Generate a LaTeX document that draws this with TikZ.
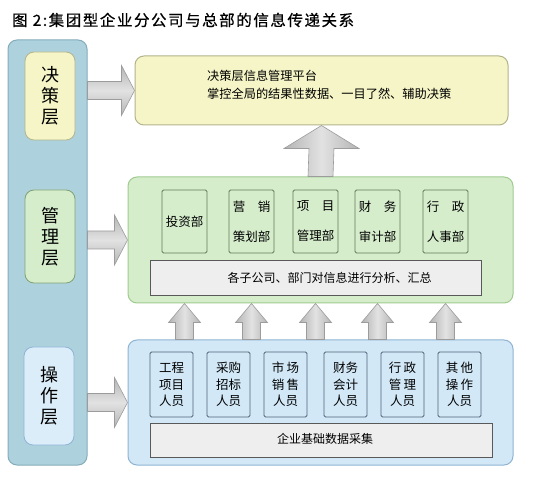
\documentclass[tikz,border=0pt]{standalone}
\usepackage{fontspec}
\setmainfont{Noto Sans CJK SC}
\newfontfamily\titlefont[LetterSpace=10, FakeBold=0.6]{Noto Sans CJK SC}
\usetikzlibrary{positioning,calc}

\definecolor{colfill}{HTML}{ADD2DE}
\definecolor{colline}{HTML}{86ABBB}
\definecolor{yelfill}{HTML}{F5F5C7}
\definecolor{yelline}{HTML}{B3B38C}
\definecolor{grnfill}{HTML}{D6EDCC}
\definecolor{grnline}{HTML}{9FCB90}
\definecolor{bluefill}{HTML}{D2E8F7}
\definecolor{blueline}{HTML}{8FB4D4}
\definecolor{barfill}{HTML}{EEEEEE}
\definecolor{arrowfill}{HTML}{E2E2E2}
\definecolor{arrowedge}{HTML}{B4B4B4}
\definecolor{arrowline}{HTML}{9C9C9C}

\tikzset{
  panel/.style={rounded corners=9pt, line width=1pt, inner sep=0pt},
  layerbox/.style={rounded corners=9pt, line width=0.8pt, inner sep=0pt,
    minimum width=50pt, align=center, font=\fontsize{18}{21}\selectfont},
  deptbox/.style={rounded corners=1.5pt, draw=grnline!60!black, fill=grnfill, line width=0.8pt,
    inner sep=0pt, minimum width=45pt, minimum height=63pt, align=center,
    font=\fontsize{12.5}{30}\selectfont},
  staffbox/.style={rounded corners=1.5pt, draw=blueline!55!black, fill=bluefill, line width=0.8pt,
    inner sep=0pt, minimum width=43pt, minimum height=65pt, align=center,
    font=\fontsize{12.5}{16.5}\selectfont},
  barbox/.style={draw=black!65, fill=barfill, line width=0.8pt, inner sep=0pt},
  barlabel/.style={inner sep=0pt, font=\fontsize{12}{14}\selectfont},
  blockarrow/.style={draw=arrowline, line width=0.6pt, line join=miter},
  harrow/.style={blockarrow, top color=arrowedge, bottom color=arrowedge, middle color=arrowfill},
  varrow/.style={blockarrow, left color=arrowedge, right color=arrowedge, middle color=arrowfill}
}

% block arrow pointing right: #1 start, #2 tip
\newcommand{\rightblock}[2]{%
  \path[harrow] ($(#1)+(0,-9)$) -- ($(#2)+(-13,-9)$) -- ($(#2)+(-13,-25)$) -- (#2)
    -- ($(#2)+(-13,25)$) -- ($(#2)+(-13,9)$) -- ($(#1)+(0,9)$) -- cycle;}
% block arrow pointing up: #1 start, #2 tip, #3 shaft half, #4 head half, #5 head length
\newcommand{\upblock}[5]{%
  \path[varrow] ($(#1)+(-#3,0)$) -- ($(#2)+(-#3,#5)$) -- ($(#2)+(-#4,#5)$) -- (#2)
    -- ($(#2)+(#4,#5)$) -- ($(#2)+(#3,#5)$) -- ($(#1)+(#3,0)$) -- cycle;}

\begin{document}
\begin{tikzpicture}[x=1pt, y=-1pt]
  \useasboundingbox[fill=white] (0,0) rectangle (549,478);

  % 标题
  \node[anchor=west, inner sep=0pt, font=\titlefont\fontsize{15.5}{17}\selectfont] (title) at (12,20)
    {图 2:集团型企业分公司与总部的信息传递关系};

  % ==================== 左侧层级栏 ====================
  \node[panel, draw=colline, fill=colfill, minimum width=79pt, minimum height=425pt] (col) at (47.5,252.5) {};
  \node[layerbox, draw=yelline, fill=yelfill, minimum height=88pt] (dec) at (50,96) {决\\策\\层};
  \node[layerbox, draw=grnline!80!black, fill=grnfill, minimum height=93pt] (mgt) at (50,236.5) {管\\理\\层};
  \node[layerbox, draw=blueline, fill=bluefill!80!white, minimum height=98pt] (ops) at (49,396) {操\\作\\层};

  % ==================== 决策层平台 ====================
  \node[panel, draw=yelline, fill=yelfill, minimum width=373pt, minimum height=69pt] (top) at (321.5,90.5) {};
  \node[anchor=north west, inner sep=0pt, align=left, font=\fontsize{12.2}{18}\selectfont] (toptext) at (207,70)
    {决策层信息管理平台\\掌控全局的结果性数据、一目了然、辅助决策};

  % ==================== 管理层 ====================
  \node[panel, draw=grnline, fill=grnfill, minimum width=385pt, minimum height=126pt] (green) at (320.5,240) {};
  \node[deptbox] (invest) at (184.5,221.5) {投资部};
  \node[deptbox] (market) at (251.5,221.5) {营\quad 销\\策划部};
  \node[deptbox] (project) at (315.5,221.5) {项\quad 目\\管理部};
  \node[deptbox] (audit) at (377.5,221.5) {财\quad 务\\审计部};
  \node[deptbox] (admin) at (445.5,221.5) {行\quad 政\\人事部};
  \node[barbox, minimum width=331pt, minimum height=35pt] (gbar) at (315.5,277.5) {};
  \node[barlabel] (gbarlabel) at (329.5,278) {各子公司、部门对信息进行分析、汇总};

  % ==================== 操作层 ====================
  \node[panel, draw=blueline, fill=bluefill, minimum width=385pt, minimum height=125pt] (blue) at (320.5,402.5) {};
  \node[staffbox] (eng) at (171.5,384.5) {工程\\项目\\人员};
  \node[staffbox] (buy) at (228.5,384.5) {采购\\招标\\人员};
  \node[staffbox] (sale) at (285.5,384.5) {市\,场\\销\,售\\人员};
  \node[staffbox] (acct) at (345.5,384.5) {财务\\会计\\人员};
  \node[staffbox] (adm) at (402.5,384.5) {行\,政\\管\,理\\人员};
  \node[staffbox] (other) at (459.5,384.5) {其\,他\\操\,作\\人员};
  \node[barbox, minimum width=342pt, minimum height=34pt] (bbar) at (321,440) {};
  \node[barlabel] (bbarlabel) at (325,439) {企业基础数据采集};

  % ==================== 箭头 ====================
  \rightblock{col.east |- top.west}{top.west}
  \rightblock{col.east |- green.west}{green.west}
  \rightblock{col.east |- blue.west}{blue.west}

  \upblock{green.north}{top.south}{12.5}{37.5}{23}

  \foreach \d in {invest, market, project, audit, admin}
    \upblock{\d.south |- blue.north}{\d.south |- green.south}{9}{16}{19};

\end{tikzpicture}
\end{document}
